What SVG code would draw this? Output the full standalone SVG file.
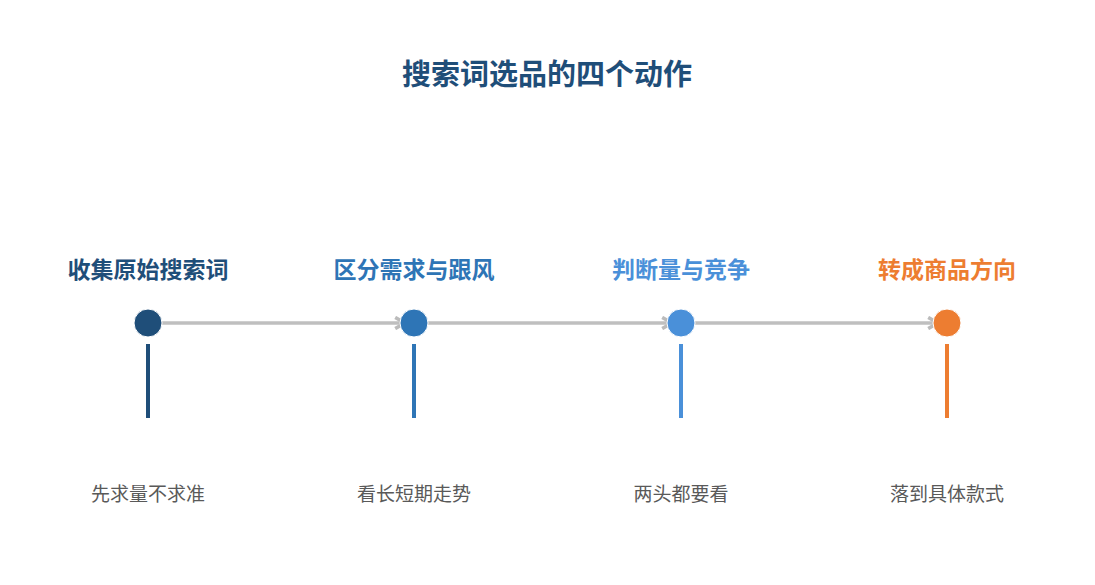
<svg xmlns="http://www.w3.org/2000/svg" width="1095" height="585" viewBox="0 0 1095 585">
<defs>
<marker id="arr" viewBox="0 0 10 10" refX="8" refY="5" markerWidth="4" markerHeight="4" orient="auto" markerUnits="strokeWidth">
<path d="M1,1 L8,5 L1,9" fill="none" stroke="#bbbbbb" stroke-width="2.5"/>
</marker>
</defs>
<style>
text{font-family:"Noto Sans CJK SC","Liberation Sans",sans-serif;text-anchor:middle}
.title{font-size:29px;font-weight:700;fill:#1f4e79}
.lbl{font-size:23px;font-weight:700}
.sub{font-size:19px;fill:#595959}
.conn{stroke:#bfbfbf;stroke-width:3.5;fill:none}
.dot{stroke:#ffffff;stroke-width:1}
</style>
<rect width="1095" height="585" fill="#ffffff"/>
<text class="title" x="547" y="85">搜索词选品的四个动作</text>
<g id="connectors">
<line class="conn" x1="162" y1="323" x2="405" y2="323" marker-end="url(#arr)"/>
<line class="conn" x1="428" y1="323" x2="672" y2="323" marker-end="url(#arr)"/>
<line class="conn" x1="695" y1="323" x2="938" y2="323" marker-end="url(#arr)"/>
</g>
<g id="node1">
<text class="lbl" x="148" y="278" fill="#1f4e79">收集原始搜索词</text>
<circle class="dot" cx="148" cy="323" r="14" fill="#1f4e79"/>
<rect x="146" y="344" width="4" height="74" fill="#1f4e79"/>
<text class="sub" x="148" y="501">先求量不求准</text>
</g>
<g id="node2">
<text class="lbl" x="414" y="278" fill="#2e75b6">区分需求与跟风</text>
<circle class="dot" cx="414" cy="323" r="14" fill="#2e75b6"/>
<rect x="412" y="344" width="4" height="74" fill="#2e75b6"/>
<text class="sub" x="414" y="501">看长短期走势</text>
</g>
<g id="node3">
<text class="lbl" x="681" y="278" fill="#4a90d9">判断量与竞争</text>
<circle class="dot" cx="681" cy="323" r="14" fill="#4a90d9"/>
<rect x="679" y="344" width="4" height="74" fill="#4a90d9"/>
<text class="sub" x="681" y="501">两头都要看</text>
</g>
<g id="node4">
<text class="lbl" x="947" y="278" fill="#ed7d31">转成商品方向</text>
<circle class="dot" cx="947" cy="323" r="14" fill="#ed7d31"/>
<rect x="945" y="344" width="4" height="74" fill="#ed7d31"/>
<text class="sub" x="947" y="501">落到具体款式</text>
</g>
</svg>
